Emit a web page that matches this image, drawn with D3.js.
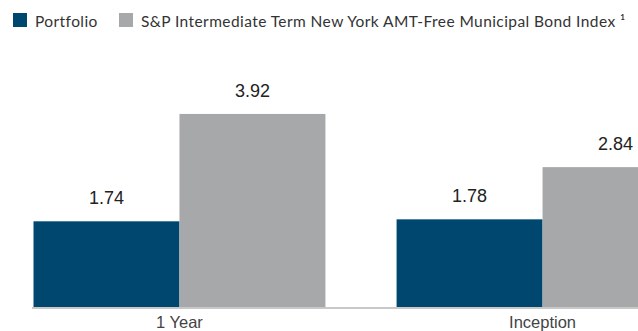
<!DOCTYPE html>
<html>
<head>
<meta charset="utf-8">
<script src="https://cdn.jsdelivr.net/npm/d3@7/dist/d3.min.js"></script>
<style>
  html, body { margin: 0; padding: 0; background: #fff; }
  svg { display: block; }
</style>
</head>
<body>
<svg id="chart" width="638" height="331"></svg>
<script>
// Annualized returns (%)
const categories = ["1 Year", "Inception"];
const seriesNames = ["Portfolio", "S&P Intermediate Term New York AMT-Free Municipal Bond Index \u00B9"];
const portfolioValues = [1.74, 1.78];
const indexValues = [3.92, 2.84];
const seriesColors = ["#00476f", "#a7a8aa"];

const svg = d3.select("#chart");
const W = 638, H = 331;
const baseY = 307;

const x0 = d3.scaleBand()
  .domain(categories)
  .range([33.5, 688.5])
  .paddingInner(0.196)
  .paddingOuter(0);

const x1 = d3.scaleBand()
  .domain([0, 1])
  .range([0, x0.bandwidth()])
  .padding(0);

const y = d3.scaleLinear()
  .domain([0, 4])
  .range([baseY, 110]);

const rows = categories.map((c, i) => ({
  category: c,
  values: [portfolioValues[i], indexValues[i]]
}));

// Bars
const groups = svg.append("g")
  .selectAll("g")
  .data(rows)
  .join("g")
  .attr("transform", d => `translate(${x0(d.category)},0)`);

groups.selectAll("rect")
  .data(d => d.values.map((v, s) => ({ v, s })))
  .join("rect")
  .attr("x", d => x1(d.s))
  .attr("y", d => y(d.v))
  .attr("width", x1.bandwidth())
  .attr("height", d => y(0) - y(d.v))
  .attr("fill", d => seriesColors[d.s]);

// Value labels
groups.selectAll("text")
  .data(d => d.values.map((v, s) => ({ v, s })))
  .join("text")
  .attr("x", d => x1(d.s) + x1.bandwidth() / 2)
  .attr("y", d => y(d.v) - 17)
  .attr("text-anchor", "middle")
  .attr("font-family", "'Liberation Sans', Arial, sans-serif")
  .attr("font-size", 18)
  .attr("fill", "#222")
  .text(d => d.v.toFixed(2));

// Category axis
const axis = svg.append("g")
  .attr("transform", `translate(0,${baseY + 1})`)
  .call(d3.axisBottom(x0).tickSize(0).tickPadding(8));
axis.select(".domain")
  .attr("d", `M32,0H${W}`)
  .attr("stroke", "#c8c8c8")
  .attr("stroke-width", 2);
axis.selectAll(".tick text")
  .attr("font-family", "'Liberation Sans', Arial, sans-serif")
  .attr("font-size", 16.5)
  .attr("fill", "#444")
  .attr("dy", "0.71em");

// Legend
const legendX = [13, 119];
const legend = svg.append("g")
  .selectAll("g")
  .data(seriesNames)
  .join("g")
  .attr("transform", (d, i) => `translate(${legendX[i]},13)`);
legend.append("rect")
  .attr("width", 14)
  .attr("height", 14)
  .attr("fill", (d, i) => seriesColors[i]);
legend.append("text")
  .attr("x", 22)
  .attr("y", 13.7)
  .attr("font-family", "Lato, 'Noto Sans', sans-serif")
  .attr("font-size", 15.5)
  .attr("letter-spacing", 0.42)
  .attr("fill", "#333")
  .text(d => d);
</script>
</body>
</html>
